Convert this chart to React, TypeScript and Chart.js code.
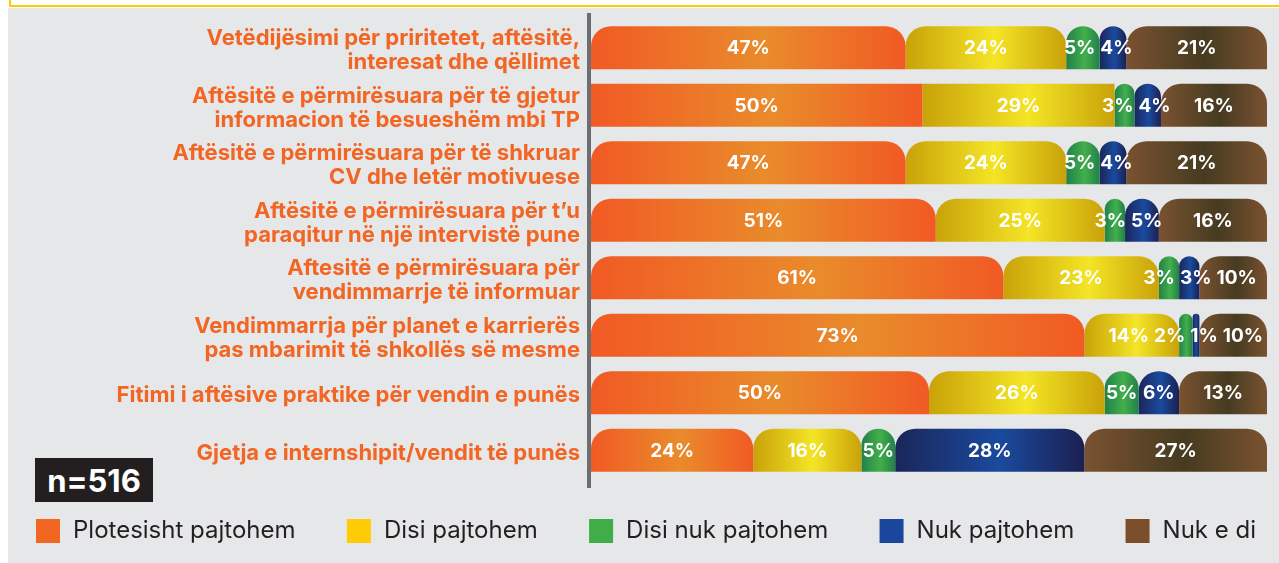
import React, { useEffect, useRef } from 'react';
import { Chart, registerables } from 'chart.js';

Chart.register(...registerables);

const categories: string[][] = [
  ['Vetëdijësimi për priritetet, aftësitë,', 'interesat dhe qëllimet'],
  ['Aftësitë e përmirësuara për të gjetur', 'informacion të besueshëm mbi TP'],
  ['Aftësitë e përmirësuara për të shkruar', 'CV dhe letër motivuese'],
  ['Aftësitë e përmirësuara për t’u', 'paraqitur në një intervistë pune'],
  ['Aftesitë e përmirësuara për', 'vendimmarrje të informuar'],
  ['Vendimmarrja për planet e karrierës', 'pas mbarimit të shkollës së mesme'],
  ['Fitimi i aftësive praktike për vendin e punës'],
  ['Gjetja e internshipit/vendit të punës'],
];

const seriesNames = ['Plotesisht pajtohem', 'Disi pajtohem', 'Disi nuk pajtohem', 'Nuk pajtohem', 'Nuk e di'];

const plotesisht = [47, 50, 47, 51, 61, 73, 50, 24];
const disi = [24, 29, 24, 25, 23, 14, 26, 16];
const disiNuk = [5, 3, 5, 3, 3, 2, 5, 5];
const nuk = [4, 4, 4, 5, 3, 1, 6, 28];
const nukEDi = [21, 16, 21, 16, 10, 10, 13, 27];

const sampleLabel = 'n=516';

const rawSeries = [plotesisht, disi, disiNuk, nuk, nukEDi];

const solidColors = ['#F36523', '#FFCB05', '#3FAE49', '#1A479D', '#7B4F2C'];
const gradientStops: string[][] = [
  ['#F15A24', '#E98B2B', '#F15A24'],
  ['#C9A209', '#F4E526', '#C9A209'],
  ['#21804A', '#43AF4B', '#21804A'],
  ['#1B2659', '#1A4A9F', '#1C2050'],
  ['#7A5230', '#463B21', '#7A5230'],
];

// each row is drawn as a share of its own total so that every bar spans the axis
const rowTotals = categories.map((_, i) => rawSeries.reduce((s, arr) => s + arr[i], 0));
const shares = rawSeries.map((arr) => arr.map((v, i) => (v / rowTotals[i]) * 100));

const LABEL_FONT = 'bold 19px Inter';

const axisLinePlugin = {
  id: 'axisLine',
  beforeDatasetsDraw(chart: any) {
    const { ctx, chartArea } = chart;
    ctx.save();
    ctx.fillStyle = '#6D6E71';
    ctx.fillRect(chartArea.left - 4, chartArea.top - 6, 4, chartArea.bottom - chartArea.top + 15);
    ctx.restore();
  },
};

const legendPlugin = {
  id: 'boxLegend',
  afterDraw(chart: any) {
    const { ctx } = chart;
    ctx.save();
    ctx.font = '24px Inter';
    ctx.textBaseline = 'middle';
    ctx.textAlign = 'left';
    const box = 24;
    const textGap = 13;
    const left = 36;
    const right = 1256;
    const cy = 531;
    const widths = seriesNames.map((n) => ctx.measureText(n).width);
    const itemsW = widths.reduce((s, w) => s + box + textGap + w, 0);
    const gap = (right - left - itemsW) / (seriesNames.length - 1);
    let x = left;
    seriesNames.forEach((n, d) => {
      ctx.fillStyle = solidColors[d];
      ctx.fillRect(x, cy - box / 2, box, box);
      ctx.fillStyle = '#231F20';
      ctx.fillText(n, x + box + textGap, cy);
      x += box + textGap + widths[d] + gap;
    });
    ctx.restore();
  },
};

const segLabelPlugin = {
  id: 'segLabels',
  afterDatasetsDraw(chart: any) {
    const { ctx, chartArea } = chart;
    ctx.save();
    ctx.font = LABEL_FONT;
    ctx.fillStyle = '#FFFFFF';
    ctx.textAlign = 'center';
    ctx.textBaseline = 'middle';
    const gap = 5;
    for (let i = 0; i < categories.length; i++) {
      const items: any[] = [];
      chart.data.datasets.forEach((_: any, d: number) => {
        const el = chart.getDatasetMeta(d).data[i];
        const p = el.getProps(['x', 'y', 'base'], true);
        const text = rawSeries[d][i] + '%';
        items.push({ c: (p.x + p.base) / 2, w: ctx.measureText(text).width, y: p.y + 1, text });
      });
      const place = (g: any[]) => {
        let off = 0;
        const offs: number[] = [];
        g.forEach((it) => {
          offs.push(off + it.w / 2);
          off += it.w + gap;
        });
        const W = off - gap;
        const left = g.reduce((s, it, k) => s + it.c - offs[k], 0) / g.length;
        return { left, right: left + W, offs };
      };
      const groups: any[][] = [];
      for (const it of items) {
        groups.push([it]);
        while (groups.length > 1) {
          const g2 = groups[groups.length - 1];
          const g1 = groups[groups.length - 2];
          if (place(g1).right + gap > place(g2).left) {
            groups.splice(groups.length - 2, 2, g1.concat(g2));
          } else break;
        }
      }
      groups.forEach((g) => {
        const pl = place(g);
        let shift = 0;
        if (pl.right > chartArea.right - 4) shift = chartArea.right - 4 - pl.right;
        g.forEach((it, k) => ctx.fillText(it.text, pl.left + pl.offs[k] + shift, it.y));
      });
    }
    ctx.restore();
  },
};

export default function App() {
  const canvasRef = useRef<HTMLCanvasElement | null>(null);

  useEffect(() => {
    if (!canvasRef.current) return;
    const datasets = seriesNames.map((name, d) => ({
      label: name,
      data: shares[d],
      borderSkipped: false as any,
      borderWidth: 0,
      borderRadius: (c: any) => {
        const r = c.dataIndex === 1 && c.datasetIndex < 2 ? 0 : 20;
        return { topLeft: r, topRight: r, bottomLeft: 0, bottomRight: 0 };
      },
      backgroundColor: (c: any) => {
        const chart = c.chart;
        const xs = chart.scales && chart.scales.x;
        if (!chart.chartArea || !xs || c.type !== 'data') return solidColors[d];
        const i = c.dataIndex;
        let start = 0;
        for (let k = 0; k < d; k++) start += shares[k][i];
        const x0 = xs.getPixelForValue(start);
        const x1 = xs.getPixelForValue(start + shares[d][i]);
        if (!isFinite(x0) || !isFinite(x1) || x1 - x0 < 1) return solidColors[d];
        const g = chart.ctx.createLinearGradient(x0, 0, x1, 0);
        const s = gradientStops[d];
        g.addColorStop(0, s[0]);
        g.addColorStop(0.55, s[1]);
        g.addColorStop(1, s[2]);
        return g;
      },
      barPercentage: 0.75,
      categoryPercentage: 1,
    }));

    const chart = new Chart(canvasRef.current, {
      type: 'bar',
      data: { labels: categories as any, datasets: datasets as any },
      options: {
        indexAxis: 'y',
        animation: false,
        responsive: false,
        devicePixelRatio: 1,
        layout: { padding: { left: 0, right: 12, top: 19, bottom: 84 } },
        scales: {
          x: {
            display: false,
            stacked: true,
            min: 0,
            max: 100,
          },
          y: {
            stacked: true,
            grid: { display: false, drawTicks: false },
            border: { display: false },
            ticks: {
              color: '#F26522',
              padding: 11,
              labelOffset: 3,
              font: { family: 'Inter', size: 22, weight: 'bold', lineHeight: 1.1 },
            },
            afterFit: (s: any) => {
              s.width = 591;
              s.paddingTop = 0;
              s.paddingBottom = 0;
            },
          },
        },
        plugins: {
          tooltip: { enabled: false },
          legend: { display: false },
        },
      },
      plugins: [axisLinePlugin, segLabelPlugin, legendPlugin],
    });
    return () => chart.destroy();
  }, []);

  return (
    <div style={{ position: 'fixed', left: 0, top: 0, width: 1279, height: 563, background: '#FFFFFF', overflow: 'hidden' }}>
      <div
        style={{
          position: 'absolute',
          left: 9,
          top: -21,
          width: 1300,
          height: 28,
          border: '2px solid #FFCB05',
          boxSizing: 'border-box',
        }}
      />
      <div style={{ position: 'absolute', left: 8, top: 8, right: 0, bottom: 0, background: '#E6E7E8' }} />
      <canvas ref={canvasRef} width={1279} height={563} style={{ position: 'absolute', left: 0, top: 0 }} />
      <div
        style={{
          position: 'absolute',
          left: 35,
          top: 458,
          width: 118,
          height: 44,
          background: '#231F20',
          color: '#FFFFFF',
          fontFamily: 'Inter',
          fontWeight: 700,
          fontSize: 31,
          display: 'flex',
          alignItems: 'center',
          justifyContent: 'center',
        }}
      >
        {sampleLabel}
      </div>
    </div>
  );
}
